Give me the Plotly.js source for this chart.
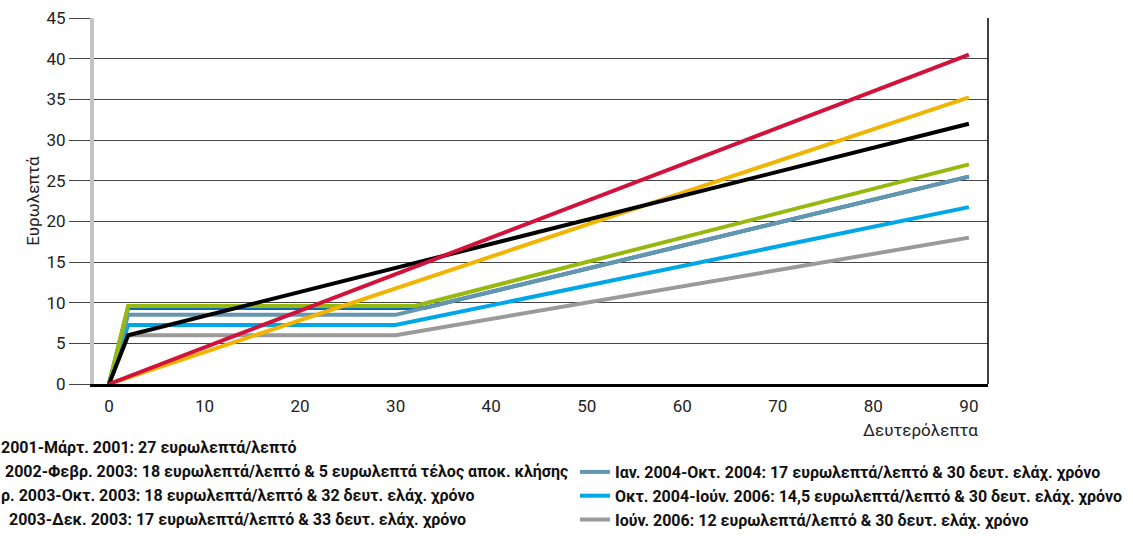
<!DOCTYPE html>
<html>
<head>
<meta charset="utf-8">
<script src="https://cdn.plot.ly/plotly-3.0.1.min.js"></script>
<style>html,body{margin:0;padding:0;background:#fff;}#chart{width:1133px;height:536px;}</style>
</head>
<body>
<div id="chart"></div>
<script>
// Data (seconds vs euro-cents)
const red_x = [0, 90];          const red_y = [0, 40.5];
const gold_x = [0, 90];         const gold_y = [0, 35.25];
const black_x = [0, 2, 90];     const black_y = [0, 6, 32];
const green_x = [0, 2, 32, 90]; const green_y = [0, 9.6, 9.6, 27];
const dblue_x = [0, 2, 33, 90]; const dblue_y = [0, 9.35, 9.35, 25.5];
const steel_x = [0, 2, 30, 90]; const steel_y = [0, 8.5, 8.5, 25.5];
const lblue_x = [0, 2, 30, 90]; const lblue_y = [0, 7.25, 7.25, 21.75];
const gray_x = [0, 2, 30, 90];  const gray_y = [0, 6, 6, 18];

// Legend texts as visible in the reference (left column is cut by the page edge)
const NB = '\u00A0';
const names = {
  red: "2001-Μάρτ. 2001: 27 ευρωλεπτά/λεπτό",
  gold: "23,5 ευρωλεπτά/λεπτό",
  black: NB + "2002-Φεβρ. 2003: 18 ευρωλεπτά/λεπτό & 5 ευρωλεπτά τέλος αποκ. κλήσης",
  green: "ρ. 2003-Οκτ. 2003: 18 ευρωλεπτά/λεπτό & 32 δευτ. ελάχ. χρόνο",
  dblue: NB + NB + "2003-Δεκ. 2003: 17 ευρωλεπτά/λεπτό & 33 δευτ. ελάχ. χρόνο",
  steel: "Ιαν. 2004-Οκτ. 2004: 17 ευρωλεπτά/λεπτό & 30 δευτ. ελάχ. χρόνο",
  lblue: "Οκτ. 2004-Ιούν. 2006: 14,5 ευρωλεπτά/λεπτό & 30 δευτ. ελάχ. χρόνο",
  gray: "Ιούν. 2006: 12 ευρωλεπτά/λεπτό & 30 δευτ. ελάχ. χρόνο"
};
const xTicks = [0, 10, 20, 30, 40, 50, 60, 70, 80, 90];
const yTicks = [0, 5, 10, 15, 20, 25, 30, 35, 40, 45];

const FONT = "Roboto, 'Liberation Sans', sans-serif";
const LW = 4;
function tr(x, y, color, name, legend, show) {
  return {x: x, y: y, type: 'scatter', mode: 'lines', name: name,
    line: {color: color, width: LW}, legend: legend, showlegend: show,
    hoverinfo: 'skip'};
}
const data = [
  tr(gray_x, gray_y, '#9a9a9a', names.gray, 'legend2', true),
  tr(lblue_x, lblue_y, '#00a7e8', names.lblue, 'legend2', true),
  tr(dblue_x, dblue_y, '#0b6db5', names.dblue, 'legend', true),
  tr(steel_x, steel_y, '#6496b0', names.steel, 'legend2', true),
  tr(green_x, green_y, '#97b90f', names.green, 'legend', true),
  tr(gold_x, gold_y, '#f2b400', names.gold, 'legend', false),
  tr(black_x, black_y, '#000000', names.black, 'legend', true),
  tr(red_x, red_y, '#d2123a', names.red, 'legend', true)
];

const legFont = {family: FONT, size: 16, color: '#111', weight: 'bold'};
const layout = {
  width: 1133, height: 536,
  margin: {l: 94, r: 145, t: 18, b: 152, autoexpand: false},
  paper_bgcolor: '#fff', plot_bgcolor: '#fff',
  showlegend: true,
  font: {family: FONT, size: 17, color: '#222'},
  xaxis: {
    range: [-1.57, 92.0], tickvals: xTicks, ticktext: xTicks.map(String),
    showgrid: false, zeroline: false, showline: true, linecolor: '#000', linewidth: 3,
    ticks: '', tickfont: {family: FONT, size: 17, color: '#222'}, ticklabelstandoff: 5,
    fixedrange: true
  },
  yaxis: {
    range: [0, 45], tickvals: yTicks, ticktext: yTicks.map(String),
    showgrid: true, gridcolor: '#444', gridwidth: 1, zeroline: false,
    showline: true, linecolor: '#c4c4c4', linewidth: 4,
    ticks: 'outside', ticklen: 21, tickcolor: '#444', tickwidth: 1,
    tickfont: {family: FONT, size: 17, color: '#222'},
    title: {text: 'Ευρωλεπτά', font: {family: FONT, size: 17, color: '#222'}, standoff: 4},
    automargin: false, fixedrange: true
  },
  legend: {
    x: (-39 - 94) / 894, y: -0.1257, xanchor: 'left', yanchor: 'top', orientation: 'v',
    font: legFont, bgcolor: 'rgba(0,0,0,0)', traceorder: 'reversed', tracegroupgap: 0
  },
  legend2: {
    x: (575 - 94) / 894, y: -0.194, xanchor: 'left', yanchor: 'top', orientation: 'v',
    font: legFont, bgcolor: 'rgba(0,0,0,0)', traceorder: 'reversed', tracegroupgap: 0
  },
  shapes: [
    {type: 'line', xref: 'paper', yref: 'paper', x0: 1, x1: 1, y0: 0, y1: 1,
     line: {color: '#000', width: 1.5}}
  ],
  annotations: [
    {text: 'Δευτερόλεπτα', xref: 'paper', yref: 'paper', x: (920 - 94) / 894, y: (384 - 430) / 366,
     xanchor: 'center', yanchor: 'middle', showarrow: false,
     font: {family: FONT, size: 17, color: '#222'}}
  ]
};

Plotly.newPlot('chart', data, layout, {displayModeBar: false, staticPlot: true});
</script>
</body>
</html>
